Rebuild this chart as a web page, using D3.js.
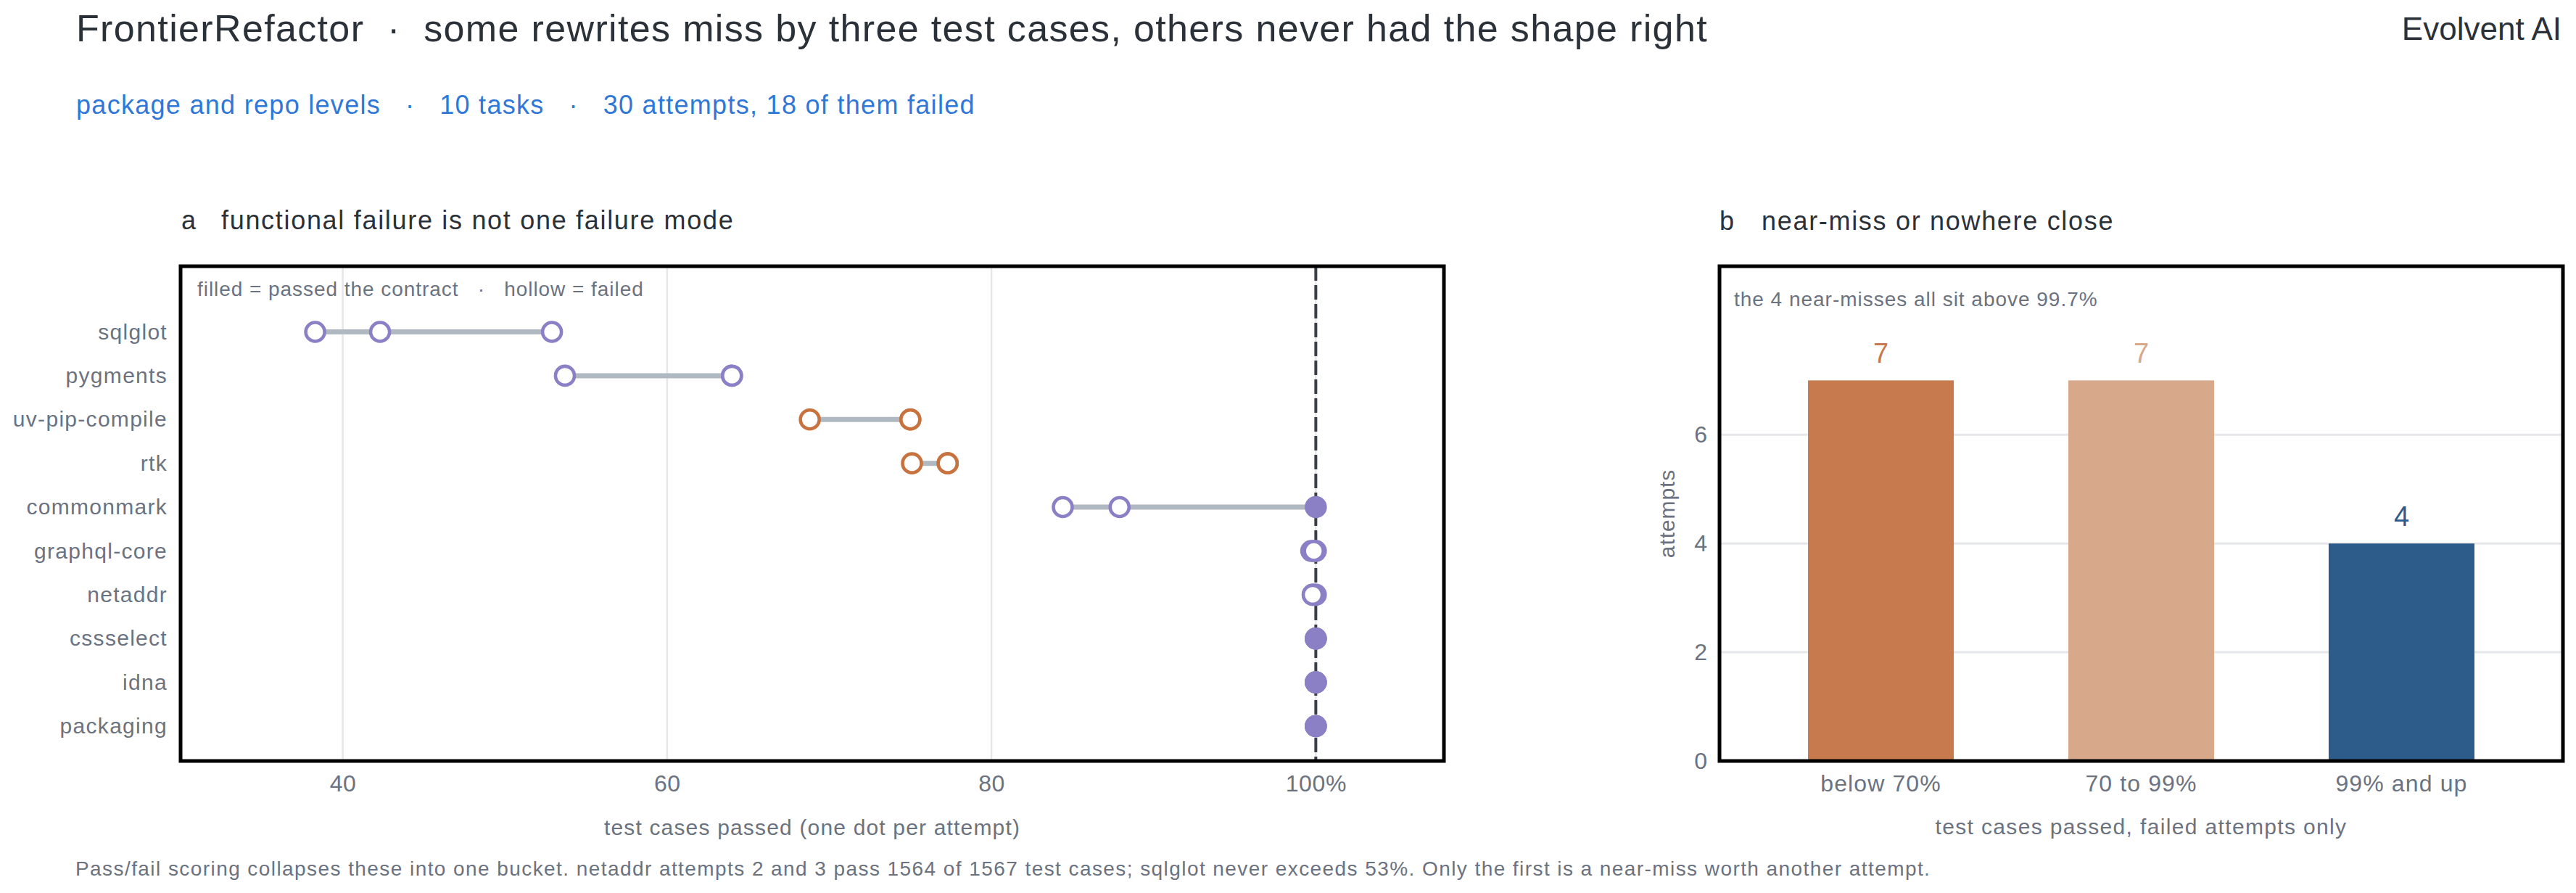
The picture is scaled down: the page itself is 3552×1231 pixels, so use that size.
<!DOCTYPE html>
<html><head><meta charset="utf-8">
<script src="https://cdn.jsdelivr.net/npm/d3@7"></script>
<style>
html,body{margin:0;padding:0;background:#fff;}
svg{display:block;font-family:"Liberation Sans",Arial,Helvetica,sans-serif;}
text{white-space:pre;}
</style></head><body>
<svg id="chart" width="3552" height="1231"></svg>
<script>
// ---------- data ----------
const tasks = ['sqlglot','pygments','uv-pip-compile','rtk','commonmark','graphql-core','netaddr','cssselect','idna','packaging'];
const taskLevel = ['package','package','repo','repo','package','package','package','package','package','package'];
const attemptScores = [
  [38.3, 42.3, 52.9],
  [53.7, 64.0, 64.0],
  [68.8, 75.0, 75.0],
  [75.1, 77.3, 77.3],
  [84.4, 87.9, 100],
  [99.72, 99.88, 100],
  [100, 99.81, 99.81],
  [100, 100, 100],
  [100, 100, 100],
  [100, 100, 100]
];
const attemptPassed = [
  [false,false,false],
  [false,false,false],
  [false,false,false],
  [false,false,false],
  [false,false,true],
  [false,false,true],
  [true,false,false],
  [true,true,true],
  [true,true,true],
  [true,true,true]
];
const xTickValues = [40, 60, 80, 100];
const bins = ['below 70%', '70 to 99%', '99% and up'];
const binCounts = [7, 7, 4];
const yTickValuesB = [0, 2, 4, 6];

// ---------- styles ----------
const levelColor = d3.scaleOrdinal().domain(['package','repo']).range(['#8B80C6','#C8733F']);
const binColor = d3.scaleOrdinal().domain(bins).range(['#C77A4E','#D7A88A','#2E5C8A']);
const INK = '#2B3139', GREY = '#6B7280', GRID = '#E5E7EB', BLUE = '#2F78D8';

const svg = d3.select('#chart');

// ---------- header ----------
svg.append('text').attr('x',105).attr('y',57).attr('font-size',52).attr('fill',INK)
  .attr('letter-spacing','0.026em')
  .text('FrontierRefactor  \u00b7  some rewrites miss by three test cases, others never had the shape right');
svg.append('text').attr('x',3532).attr('y',55).attr('font-size',44).attr('fill',INK).attr('text-anchor','end')
  .text('Evolvent AI');
svg.append('text').attr('x',105).attr('y',157).attr('font-size',36).attr('fill',BLUE)
  .attr('letter-spacing','0.036em')
  .text('package and repo levels   \u00b7   10 tasks   \u00b7   30 attempts, 18 of them failed');

// ---------- panel a ----------
const A = {l:249, r:1991, t:367, b:1049};
const x = d3.scaleLinear().domain([30, 107.9]).range([A.l, A.r]);
const y = d3.scalePoint().domain(tasks).range([457.5, 1001]);

svg.append('text').attr('x',250).attr('y',316).attr('font-size',36).attr('fill',INK).text('a');
svg.append('text').attr('x',305).attr('y',316).attr('font-size',36).attr('fill',INK)
  .attr('letter-spacing','0.047em').text('functional failure is not one failure mode');

const ga = svg.append('g');
ga.selectAll('line.grid').data(xTickValues).join('line').attr('class','grid')
  .attr('x1',d=>x(d)).attr('x2',d=>x(d)).attr('y1',A.t).attr('y2',A.b)
  .attr('stroke',GRID).attr('stroke-width',2.5);

ga.append('text').attr('x',272).attr('y',408).attr('font-size',28).attr('fill',GREY)
  .attr('letter-spacing','0.034em')
  .text('filled = passed the contract   \u00b7   hollow = failed');

const rows = tasks.map((t,i)=>({task:t, level:taskLevel[i],
  pts: attemptScores[i].map((v,j)=>({v, passed:attemptPassed[i][j]}))}));

ga.selectAll('line.conn').data(rows).join('line').attr('class','conn')
  .attr('x1',d=>x(d3.min(d.pts,p=>p.v))).attr('x2',d=>x(d3.max(d.pts,p=>p.v)))
  .attr('y1',d=>y(d.task)).attr('y2',d=>y(d.task))
  .attr('stroke','#B0B8C1').attr('stroke-width',7);

ga.append('line').attr('x1',x(100)).attr('x2',x(100)).attr('y1',A.t).attr('y2',A.b)
  .attr('stroke','#3A3F47').attr('stroke-width',4).attr('stroke-dasharray','20,6');

const dots = [];
rows.forEach(r=>{
  r.pts.filter(p=>p.passed).forEach(p=>dots.push({task:r.task, level:r.level, ...p}));
});
rows.forEach(r=>{
  r.pts.filter(p=>!p.passed).forEach(p=>dots.push({task:r.task, level:r.level, ...p}));
});
ga.selectAll('circle.dot').data(dots).join('circle').attr('class','dot')
  .attr('cx',d=>x(d.v)).attr('cy',d=>y(d.task))
  .attr('r',d=>d.passed?15.3:13)
  .attr('fill',d=>d.passed?levelColor(d.level):'#fff')
  .attr('stroke',d=>d.passed?'none':levelColor(d.level))
  .attr('stroke-width',4.6);

const axA = ga.append('g').attr('transform',`translate(0,${A.b})`)
  .call(d3.axisBottom(x).tickValues(xTickValues).tickSize(0).tickPadding(19)
    .tickFormat(d=>d===100?'100%':String(d)));
axA.select('.domain').remove();
axA.selectAll('text').attr('font-size',32).attr('fill',GREY).attr('font-family',null)
  .attr('letter-spacing','0.02em');

const ayA = ga.append('g').attr('transform',`translate(${A.l},0)`)
  .call(d3.axisLeft(y).tickSize(0).tickPadding(18));
ayA.select('.domain').remove();
ayA.selectAll('text').attr('font-size',30).attr('fill',GREY).attr('font-family',null)
  .attr('letter-spacing','0.043em');

ga.append('text').attr('x',(A.l+A.r)/2).attr('y',1151).attr('text-anchor','middle')
  .attr('font-size',30).attr('fill',GREY).attr('letter-spacing','0.039em')
  .text('test cases passed (one dot per attempt)');

ga.append('rect').attr('x',A.l).attr('y',A.t).attr('width',A.r-A.l).attr('height',A.b-A.t)
  .attr('fill','none').attr('stroke','#000').attr('stroke-width',5);

// ---------- panel b ----------
const B = {l:2371, r:3534, t:367, b:1049};
const xb = d3.scaleBand().domain(bins).range([B.l, B.r]).paddingInner(0.44).paddingOuter(0.34);
const yb = d3.scaleLinear().domain([0, d3.max(binCounts)*1.3]).range([B.b, B.t]);

svg.append('text').attr('x',2371).attr('y',317).attr('font-size',36).attr('fill',INK).text('b');
svg.append('text').attr('x',2429).attr('y',317).attr('font-size',36).attr('fill',INK)
  .attr('letter-spacing','0.047em').text('near-miss or nowhere close');

const gb = svg.append('g');
gb.selectAll('line.grid').data(yTickValuesB.filter(d=>d>0)).join('line').attr('class','grid')
  .attr('x1',B.l).attr('x2',B.r).attr('y1',d=>yb(d)).attr('y2',d=>yb(d))
  .attr('stroke',GRID).attr('stroke-width',3);

gb.append('text').attr('x',2391).attr('y',422).attr('font-size',28).attr('fill',GREY)
  .attr('letter-spacing','0.035em')
  .text('the 4 near-misses all sit above 99.7%');

const barData = bins.map((b,i)=>({bin:b, n:binCounts[i]}));
gb.selectAll('rect.bar').data(barData).join('rect').attr('class','bar')
  .attr('x',d=>xb(d.bin)).attr('width',xb.bandwidth())
  .attr('y',d=>yb(d.n)).attr('height',d=>yb(0)-yb(d.n))
  .attr('fill',d=>binColor(d.bin));
gb.selectAll('text.val').data(barData).join('text').attr('class','val')
  .attr('x',d=>xb(d.bin)+xb.bandwidth()/2).attr('y',d=>yb(d.n)-24)
  .attr('text-anchor','middle').attr('font-size',38).attr('fill',d=>binColor(d.bin))
  .text(d=>d.n);

const ayB = gb.append('g').attr('transform',`translate(${B.l},0)`)
  .call(d3.axisLeft(yb).tickValues(yTickValuesB).tickSize(0).tickPadding(17).tickFormat(d3.format('d')));
ayB.select('.domain').remove();
ayB.selectAll('text').attr('font-size',32).attr('fill',GREY).attr('font-family',null);

const axB = gb.append('g').attr('transform',`translate(0,${B.b})`)
  .call(d3.axisBottom(xb).tickSize(0).tickPadding(19));
axB.select('.domain').remove();
axB.selectAll('text').attr('font-size',32).attr('fill',GREY).attr('font-family',null)
  .attr('letter-spacing','0.035em');

gb.append('text').attr('transform',`translate(2309,${(B.t+B.b)/2}) rotate(-90)`)
  .attr('text-anchor','middle').attr('font-size',30).attr('fill',GREY)
  .attr('letter-spacing','0.03em').text('attempts');
gb.append('text').attr('x',(B.l+B.r)/2).attr('y',1150).attr('text-anchor','middle')
  .attr('font-size',30).attr('fill',GREY).attr('letter-spacing','0.045em')
  .text('test cases passed, failed attempts only');

gb.append('rect').attr('x',B.l).attr('y',B.t).attr('width',B.r-B.l).attr('height',B.b-B.t)
  .attr('fill','none').attr('stroke','#000').attr('stroke-width',5);

// ---------- footnote ----------
svg.append('text').attr('x',104).attr('y',1207).attr('font-size',28).attr('fill',GREY)
  .attr('letter-spacing','0.051em')
  .text('Pass/fail scoring collapses these into one bucket. netaddr attempts 2 and 3 pass 1564 of 1567 test cases; sqlglot never exceeds 53%. Only the first is a near-miss worth another attempt.');
</script>
</body></html>
